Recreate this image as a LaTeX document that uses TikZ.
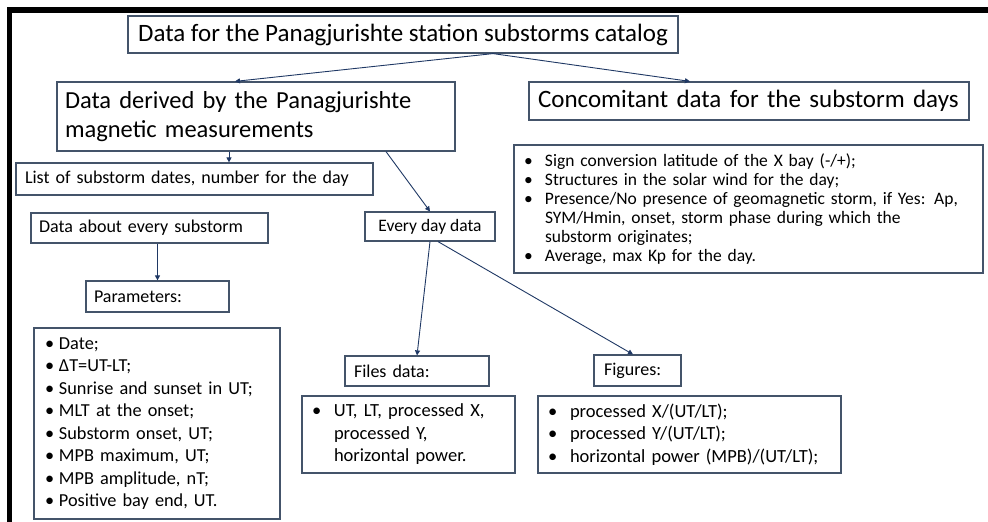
\documentclass[tikz,border=0pt]{standalone}
\usepackage{fontspec}
\setmainfont{Carlito}
\usetikzlibrary{arrows.meta}
\definecolor{boxc}{HTML}{44546A}
\definecolor{arrc}{HTML}{1F3864}
\tikzset{
  box/.style={draw=boxc, line width=1.2pt, rectangle, inner sep=0pt, text=black, align=left},
  conn/.style={draw=arrc, line width=0.9pt, -{Triangle[length=5pt,width=5pt]}},
}
\newcommand{\bl}[1]{\makebox[#1][l]{\textbullet}}
\begin{document}
\begin{tikzpicture}[x=1pt,y=-1pt]
\useasboundingbox (0,0) rectangle (988,522);
% black frame
\fill[black] (7,7) rectangle (988,13);
\fill[black] (7,7) rectangle (12,522);

\node[box, minimum width=550pt, minimum height=37pt, align=center, font=\fontsize{25}{29}\selectfont] (title) at (403,34.5)
  {Data for the Panagjurishte station substorms catalog};

\node[box, minimum width=398pt, minimum height=69pt, text width=382pt, font=\fontsize{24.5}{29}\selectfont] (derived) at (256,116.5)
  {Data derived by the Panagjurishte\\magnetic measurements};

\node[box, minimum width=440pt, minimum height=38pt, text width=422pt, font=\fontsize{25}{29}\selectfont] (conc) at (749,101)
  {Concomitant data for the substorm days};

\node[box, minimum width=469pt, minimum height=128pt, text width=449pt, font=\fontsize{17.5}{19}\selectfont] (concbul) at (748.5,209)
  {\bl{21pt}Sign conversion latitude of the X bay (-/+);\\
   \bl{21pt}Structures in the solar wind for the day;\\
   \bl{21pt}Presence/No presence of geomagnetic storm, if Yes: Ap,\\
   \hspace*{21pt}SYM/Hmin, onset, storm phase during which the\\
   \hspace*{21pt}substorm originates;\\
   \bl{21pt}Average, max Kp for the day.};

\node[box, minimum width=357pt, minimum height=32pt, text width=339pt, font=\fontsize{18}{21}\selectfont] (list) at (194.5,179)
  {List of substorm dates, number for the day};

\node[box, minimum width=237pt, minimum height=30pt, text width=221pt, font=\fontsize{18}{21}\selectfont] (about) at (149.5,228)
  {Data about every substorm};

\node[box, minimum width=130pt, minimum height=29pt, align=center, font=\fontsize{17.5}{21}\selectfont] (everyday) at (430,226.5)
  {Every day data};

\node[box, minimum width=143pt, minimum height=31pt, text width=127pt, font=\fontsize{18}{21}\selectfont] (params) at (157.5,296.5)
  {Parameters:};

\node[box, minimum width=246pt, minimum height=191pt, text width=224pt, font=\fontsize{18.3}{22.5}\selectfont] (parbul) at (157,423.5)
  {\bl{14pt}Date;\\
   \bl{14pt}ΔT=UT-LT;\\
   \bl{14pt}Sunrise and sunset in UT;\\
   \bl{14pt}MLT at the onset;\\
   \bl{14pt}Substorm onset, UT;\\
   \bl{14pt}MPB maximum, UT;\\
   \bl{14pt}MPB amplitude, nT;\\
   \bl{14pt}Positive bay end, UT.};

\node[box, minimum width=144pt, minimum height=30pt, text width=126pt, font=\fontsize{18}{21}\selectfont] (files) at (417,371)
  {Files data:};

\node[box, minimum width=213pt, minimum height=77pt, text width=193pt, font=\fontsize{18.5}{22.5}\selectfont] (filesbul) at (408.5,434.5)
  {\bl{22pt}UT, LT, processed X,\\
   \hspace*{22pt}processed Y,\\
   \hspace*{22pt}horizontal power.};

\node[box, minimum width=87pt, minimum height=31pt, text width=67pt, font=\fontsize{18}{21}\selectfont] (figures) at (637.5,370.5)
  {Figures:};

\node[box, minimum width=303pt, minimum height=77pt, text width=283pt, font=\fontsize{18.5}{22.5}\selectfont] (figbul) at (689.5,434.5)
  {\bl{22pt}processed X/(UT/LT);\\
   \bl{22pt}processed Y/(UT/LT);\\
   \bl{22pt}horizontal power (MPB)/(UT/LT);};

% connectors
\draw[conn] ([xshift=90pt]title.south) -- ([xshift=-21pt]derived.north);
\draw[conn] ([xshift=90pt]title.south) -- ([xshift=-59pt]conc.north);
\draw[conn] ([xshift=-27pt]derived.south) -- ([xshift=-27pt]derived.south |- list.north);
\draw[conn] ([xshift=130pt]derived.south) -- (everyday.north);
\draw[conn] (params.north |- about.south) -- (params.north);
\draw[conn] (everyday.south) -- (files.north);
\draw[conn] ([xshift=8pt]everyday.south) -- ([xshift=-4.5pt]figures.north);
\end{tikzpicture}
\end{document}
